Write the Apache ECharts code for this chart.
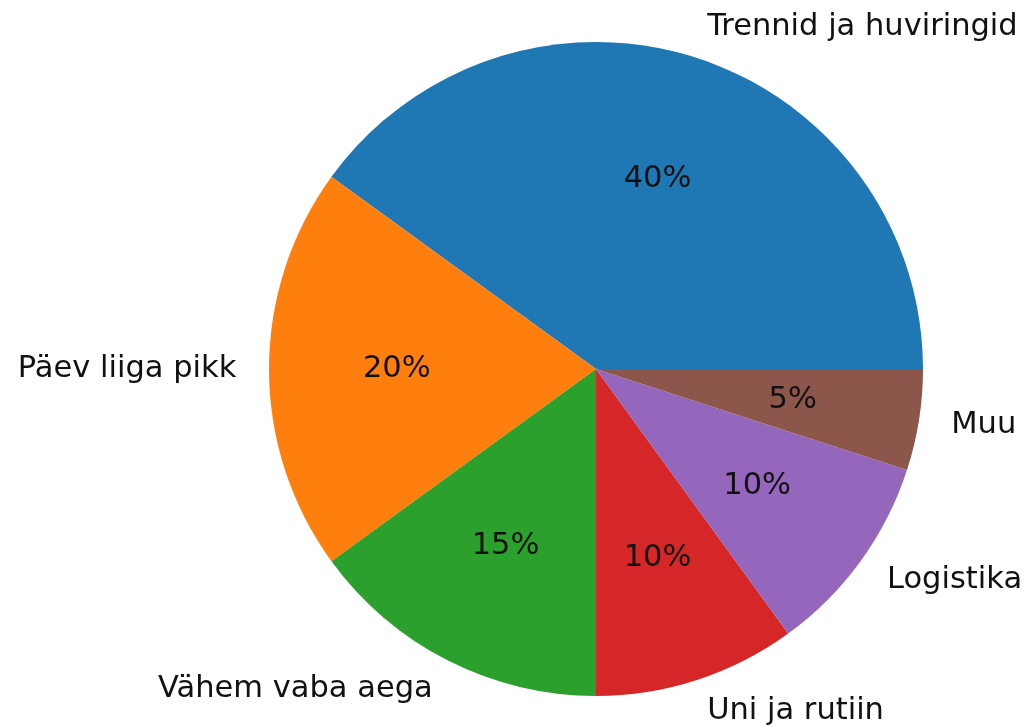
<!DOCTYPE html>
<html>
<head>
<meta charset="utf-8">
<script src="https://cdn.jsdelivr.net/npm/echarts@6/dist/echarts.min.js"></script>
<style>
html,body{margin:0;padding:0;background:#fff;}
#chart{width:1027px;height:727px;}
</style>
</head>
<body>
<div id="chart"></div>
<script>
const categories = ["Trennid ja huviringid", "Päev liiga pikk", "Vähem vaba aega", "Uni ja rutiin", "Logistika", "Muu"];
const values = [40, 20, 15, 10, 10, 5];
const colors = ["#1f77b4", "#ff7f0e", "#2ca02c", "#d62728", "#9467bd", "#8c564b"];

const R = 327;
const center = [596, 369];
const font = "DejaVu Sans";
const fs = 30.5;

const data = categories.map((c, i) => ({ name: c, value: values[i], itemStyle: { color: colors[i] } }));
const dataT = categories.map((c, i) => ({ name: c, value: values[i] }));

const chart = echarts.init(document.getElementById('chart'), null, { renderer: 'canvas' });
chart.setOption({
  animation: false,
  backgroundColor: '#fff',
  series: [
    {
      type: 'pie',
      center: center,
      radius: [0, R],
      startAngle: 0,
      clockwise: false,
      avoidLabelOverlap: false,
      silent: true,
      data: data,
      itemStyle: { borderWidth: 0 },
      label: {
        show: true,
        position: 'outside',
        formatter: '{b}',
        fontFamily: font,
        fontSize: fs,
        color: '#111',
        distanceToLabelLine: 0,
        verticalAlign: 'middle'
      },
      labelLine: { show: false, length: R * 0.1, length2: 0 },
      emphasis: { disabled: true }
    },
    {
      type: 'pie',
      center: center,
      radius: [0, R * 1.2],
      startAngle: 0,
      clockwise: false,
      avoidLabelOverlap: false,
      silent: true,
      z: 5,
      data: dataT,
      itemStyle: { color: 'rgba(0,0,0,0)', borderWidth: 0 },
      label: {
        show: true,
        position: 'inside',
        formatter: p => Math.round(p.percent) + '%',
        fontFamily: font,
        fontSize: fs,
        color: '#111',
        align: 'center',
        verticalAlign: 'middle'
      },
      labelLine: { show: false },
      emphasis: { disabled: true }
    }
  ]
});
</script>
</body>
</html>
